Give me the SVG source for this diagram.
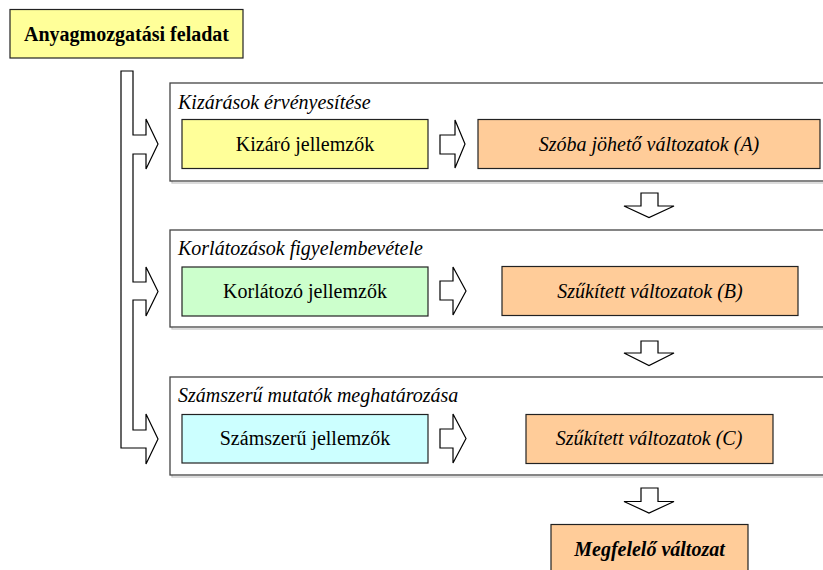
<svg xmlns="http://www.w3.org/2000/svg" width="823" height="570" viewBox="0 0 823 570" font-family="'Liberation Serif', 'DejaVu Serif', serif">
<style>
  text { font-family: "Liberation Serif", "Times New Roman", "DejaVu Serif", serif; fill: #000; }
  .lbl { font-size: 20px; text-anchor: middle; }
  .it { font-style: italic; }
  .grp { font-size: 20px; font-style: italic; }
  .box { stroke: #222; stroke-width: 1.2; }
  .outer { fill: #fff; stroke: #444; stroke-width: 1.3; }
  .shadow { fill: none; stroke: #c8c8c8; stroke-width: 1.3; }
  .arr { fill: #fff; stroke: #000; stroke-width: 1.2; stroke-linejoin: miter; }
</style>
<rect width="823" height="570" fill="#fff"/>

<g id="title">
  <rect class="box" x="10" y="9.5" width="233" height="48.5" fill="#ffff99"/>
  <text x="126.5" y="41" style="font-size:20px;font-weight:bold;text-anchor:middle">Anyagmozgatási feladat</text>
</g>

<g id="group1">
  <rect class="shadow" x="172" y="85" width="660" height="98"/>
  <rect class="outer" x="170" y="83" width="660" height="98"/>
  <text class="grp" x="178" y="109">Kizárások érvényesítése</text>
</g>
<g id="group2">
  <rect class="shadow" x="172" y="232" width="660" height="97"/>
  <rect class="outer" x="170" y="230" width="660" height="97"/>
  <text class="grp" x="178" y="255">Korlátozások figyelembevétele</text>
</g>
<g id="group3">
  <rect class="shadow" x="172" y="379" width="660" height="98"/>
  <rect class="outer" x="170" y="377" width="660" height="98"/>
  <text class="grp" x="178" y="402">Számszerű mutatók meghatározása</text>
</g>

<g id="kizaro">
  <rect class="box" x="182" y="119.5" width="246" height="49" fill="#ffff99"/>
  <text class="lbl" x="305" y="151">Kizáró jellemzők</text>
</g>
<g id="valtA">
  <rect class="box" x="478" y="119.5" width="342" height="49" fill="#ffcc99"/>
  <text class="lbl it" x="649" y="151">Szóba jöhető változatok (A)</text>
</g>
<g id="korlatozo">
  <rect class="box" x="182" y="267" width="246" height="49" fill="#ccffcc"/>
  <text class="lbl" x="305" y="298">Korlátozó jellemzők</text>
</g>
<g id="valtB">
  <rect class="box" x="502" y="266.5" width="296" height="49" fill="#ffcc99"/>
  <text class="lbl it" x="650" y="298">Szűkített változatok (B)</text>
</g>
<g id="szamszeru">
  <rect class="box" x="182" y="414.5" width="246" height="48.5" fill="#ccffff"/>
  <text class="lbl" x="305" y="445">Számszerű jellemzők</text>
</g>
<g id="valtC">
  <rect class="box" x="526" y="414.5" width="247" height="49" fill="#ffcc99"/>
  <text class="lbl it" x="649" y="445">Szűkített változatok (C)</text>
</g>
<g id="megfelelo">
  <rect class="box" x="551" y="524.5" width="197" height="60" fill="#ffcc99"/>
  <text class="lbl it" x="649.5" y="556" style="font-weight:bold">Megfelelő változat</text>
</g>

<g id="connectors">
  <polygon class="arr" points="121,71 133,71 133,135 146,135 146,119 158,144 146,169 146,154 133,154 133,282 146,282 146,267 158,291.5 146,316 146,300 133,300 133,430 146,430 146,414 158,439 146,464 146,448 121,448"/>
  <polygon class="arr" points="440,135 455,135 455,120 465,144 455,168 455,154 440,154"/>
  <polygon class="arr" points="440,281 453,281 453,267 466,291 453,315 453,300 440,300"/>
  <polygon class="arr" points="440,429 453,429 453,414 466,438.5 453,463 453,448 440,448"/>
  <polygon class="arr" points="641,193 658,193 658,206 674,206 649,217.5 624,206 641,206"/>
  <polygon class="arr" points="641,341 658,341 658,353 674,353 649,365.5 624,353 641,353"/>
  <polygon class="arr" points="641,488 658,488 658,501.5 674,501.5 649,513 624,501.5 641,501.5"/>
</g>
</svg>
